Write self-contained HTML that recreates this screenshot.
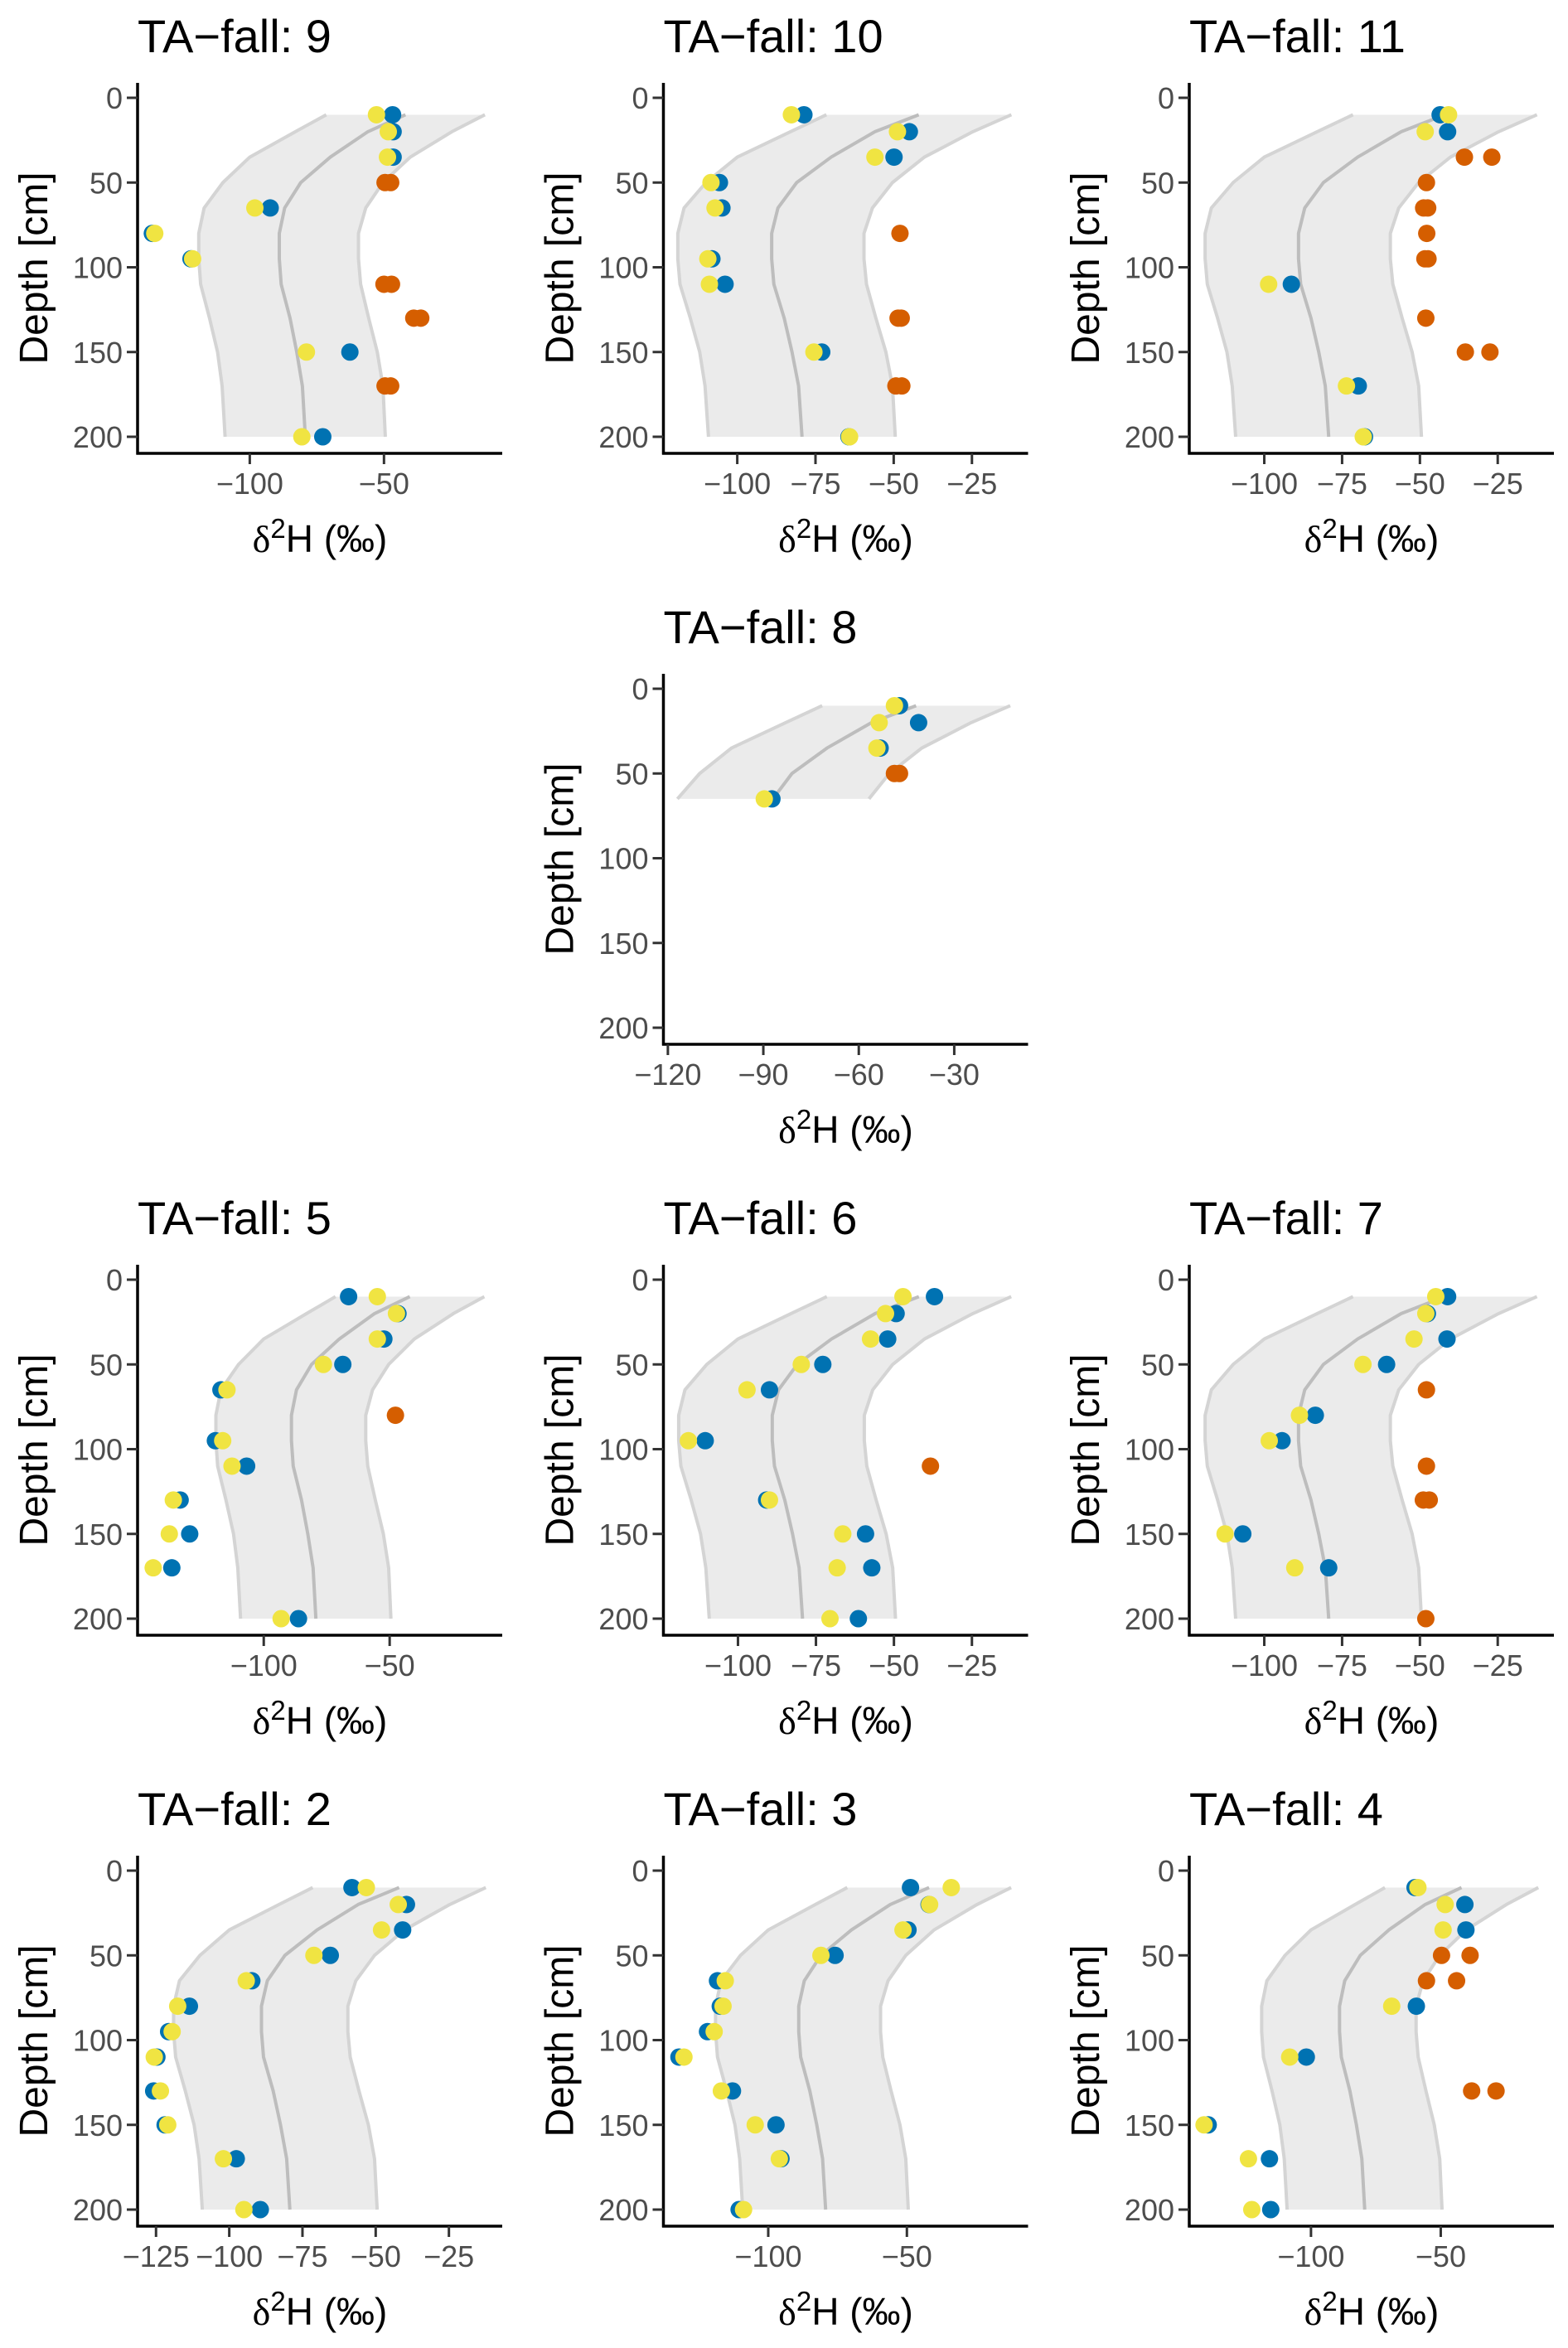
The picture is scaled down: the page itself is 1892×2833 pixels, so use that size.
<!DOCTYPE html>
<html><head><meta charset="utf-8"><style>
html,body{margin:0;padding:0;background:#fff;}
svg{display:block;}
</style></head><body>
<svg id="chart" xmlns="http://www.w3.org/2000/svg" width="1892" height="2833" viewBox="0 0 1892 2833"></svg>
<script>
// Shared reference band (depth in cm, d2H in permil)
const bandDepth = [10,20,35,50,65,80,95,110,130,150,170,200];
const bandLow   = [-71.5,-83,-100,-110,-117,-119,-119,-118.3,-115,-112,-110.3,-109.2];
const bandMid   = [-42,-56,-70,-81,-87,-89,-89,-88.3,-85,-82.5,-80.4,-79.3];
const bandHigh  = [-12.4,-24.7,-40.2,-50.4,-56.8,-59.5,-59.5,-58.7,-55.7,-52.5,-50.4,-49.5];
const depthTicks = [0,50,100,150,200];

// Panel titles and x tick labels
const panelNames = ['9','10','11','8','5','6','7','2','3','4'];
const ticks9 = [-100,-50];
const ticks10 = [-100,-75,-50,-25];
const ticks11 = [-100,-75,-50,-25];
const ticks8 = [-120,-90,-60,-30];
const ticks5 = [-100,-50];
const ticks6 = [-100,-75,-50,-25];
const ticks7 = [-100,-75,-50,-25];
const ticks2 = [-125,-100,-75,-50,-25];
const ticks3 = [-100,-50];
const ticks4 = [-100,-50];

// Data: [depth, d2H]
const blue9 = [[10,-46.8],[20,-46.6],[35,-46.6],[65,-92.4],[80,-136.3],[95,-121.9],[150,-62.7],[200,-72.8]];
const yellow9 = [[10,-52.8],[20,-48.4],[35,-48.7],[65,-98.1],[80,-135.4],[95,-121.3],[150,-78.9],[200,-80.6]];
const orange9 = [[50,-49.6],[50,-47.5],[110,-50],[110,-47.2],[130,-38.9],[130,-36.3],[170,-49.6],[170,-47.5]];

const blue10 = [[10,-78.7],[20,-45.0],[35,-49.9],[50,-105.7],[65,-104.9],[95,-108.1],[110,-103.9],[150,-73.0],[200,-64.3]];
const yellow10 = [[10,-82.7],[20,-48.8],[35,-56.0],[50,-108.4],[65,-107.1],[95,-109.4],[110,-108.9],[150,-75.5],[200,-64.1]];
const orange10 = [[80,-48.0],[130,-48.6],[130,-47.6],[170,-49.3],[170,-47.4]];

const blue11 = [[10,-43.5],[20,-41.1],[110,-91.3],[170,-69.8],[200,-67.8]];
const yellow11 = [[10,-40.8],[20,-48.3],[110,-98.6],[170,-73.6],[200,-68.2]];
const orange11 = [[35,-35.7],[35,-26.9],[50,-47.9],[65,-48.8],[65,-47.5],[80,-47.8],[95,-48.4],[95,-47.4],[130,-48.1],[150,-35.4],[150,-27.5]];

const blue8 = [[10,-47.2],[20,-41.2],[35,-53.3],[65,-87.3]];
const yellow8 = [[10,-48.8],[20,-53.6],[35,-54.3],[65,-89.7]];
const orange8 = [[50,-48.8],[50,-47.2]];

const blue5 = [[10,-66.3],[20,-46.7],[35,-52.3],[50,-68.6],[65,-117],[95,-119.2],[110,-106.8],[130,-133.2],[150,-129.4],[170,-136.5],[200,-86.2]];
const yellow5 = [[10,-54.9],[20,-47.3],[35,-54.9],[50,-76.3],[65,-114.6],[95,-116.3],[110,-112.6],[130,-135.9],[150,-137.5],[170,-143.9],[200,-93.1]];
const orange5 = [[80,-47.7]];

const blue6 = [[10,-37.0],[20,-49.3],[35,-52.0],[50,-72.8],[65,-89.9],[95,-110.5],[130,-90.8],[150,-59.1],[170,-57.1],[200,-61.4]];
const yellow6 = [[10,-47.1],[20,-52.7],[35,-57.5],[50,-79.7],[65,-97.1],[95,-115.9],[130,-89.9],[150,-66.4],[170,-68.2],[200,-70.5]];
const orange6 = [[110,-38.3]];

const blue7 = [[10,-41.1],[20,-47.6],[35,-41.3],[50,-60.7],[80,-83.6],[95,-94.3],[150,-106.9],[170,-79.3]];
const yellow7 = [[10,-44.9],[20,-48.1],[35,-51.9],[50,-68.3],[80,-88.7],[95,-98.4],[150,-112.6],[170,-90.2]];
const orange7 = [[65,-47.9],[110,-47.9],[130,-48.9],[130,-47.0],[200,-48.1]];

const blue2 = [[10,-58.1],[20,-39.5],[35,-40.8],[50,-65.5],[65,-92.3],[80,-113.6],[95,-120.7],[110,-124.7],[130,-125.8],[150,-121.9],[170,-97.6],[200,-89.4]];
const yellow2 = [[10,-53.2],[20,-42.3],[35,-48.0],[50,-71.1],[65,-94.2],[80,-117.6],[95,-119.5],[110,-125.6],[130,-123.5],[150,-121.0],[170,-102.0],[200,-95.0]];
const orange2 = [];

const blue3 = [[10,-48.7],[20,-42.0],[35,-49.6],[50,-75.9],[65,-118.3],[80,-117.3],[95,-121.9],[110,-132.2],[130,-112.9],[150,-97.2],[170,-95.4],[200,-110.5]];
const yellow3 = [[10,-34.0],[20,-41.8],[35,-51.4],[50,-81.0],[65,-115.5],[80,-116.3],[95,-119.5],[110,-130.4],[130,-116.9],[150,-104.7],[170,-96.0],[200,-108.9]];
const orange3 = [];

const blue4 = [[10,-59.9],[20,-40.7],[35,-40.3],[80,-59.4],[110,-101.8],[150,-139.6],[170,-116.0],[200,-115.5]];
const yellow4 = [[10,-58.8],[20,-48.3],[35,-49.1],[80,-68.9],[110,-108.2],[150,-141.2],[170,-124.1],[200,-122.8]];
const orange4 = [[50,-49.7],[50,-38.7],[65,-55.5],[65,-43.9],[130,-38.1],[130,-28.7]];

// layout
const NS = 'http://www.w3.org/2000/svg';
const svg = document.getElementById('chart');
const colX = [0, 634.5, 1269];
const rowY = [0, 713, 1426, 2139];
const panels = [
  {n:'9', c:0,r:0, xmin:-141.8,xmax:-5.95, ticks:ticks9, b:blue9,y:yellow9,o:orange9, maxD:200},
  {n:'10',c:1,r:0, xmin:-123.6,xmax:-7.06, ticks:ticks10,b:blue10,y:yellow10,o:orange10,maxD:200},
  {n:'11',c:2,r:0, xmin:-124.1,xmax:-6.95, ticks:ticks11,b:blue11,y:yellow11,o:orange11,maxD:200},
  {n:'8', c:1,r:1, xmin:-121.4,xmax:-6.8,  ticks:ticks8, b:blue8,y:yellow8,o:orange8, maxD:65},
  {n:'5', c:0,r:2, xmin:-150.1,xmax:-5.3,  ticks:ticks5, b:blue5,y:yellow5,o:orange5, maxD:200},
  {n:'6', c:1,r:2, xmin:-123.9,xmax:-7.0,  ticks:ticks6, b:blue6,y:yellow6,o:orange6, maxD:200},
  {n:'7', c:2,r:2, xmin:-124.1,xmax:-6.95, ticks:ticks7, b:blue7,y:yellow7,o:orange7, maxD:200},
  {n:'2', c:0,r:3, xmin:-131.3,xmax:-6.8,  ticks:ticks2, b:blue2,y:yellow2,o:orange2, maxD:200},
  {n:'3', c:1,r:3, xmin:-137.8,xmax:-6.3,  ticks:ticks3, b:blue3,y:yellow3,o:orange3, maxD:200},
  {n:'4', c:2,r:3, xmin:-146.9,xmax:-6.4,  ticks:ticks4, b:blue4,y:yellow4,o:orange4, maxD:200}
];
function mk(tag, attrs, parent){
  const e = document.createElementNS(NS, tag);
  for (const k in attrs) e.setAttribute(k, attrs[k]);
  parent.appendChild(e);
  return e;
}
const AX = 166, AR = 606, AT = 100, AB = 547, D0 = 118, D200 = 527;
panels.forEach(p => {
  const ox = colX[p.c], oy = rowY[p.r];
  const g = mk('g', {transform:`translate(${ox},${oy})`}, svg);
  
  
  const sx = v => AX + (v - p.xmin) / (p.xmax - p.xmin) * (AR - AX);
  const sy = d => D0 + d / 200 * (D200 - D0);
  const t = mk('text', {x:AX, y:63, 'font-family':'Liberation Sans, sans-serif', 'font-size':56, fill:'#000'}, g);
  t.textContent = 'TA\u2212fall: ' + p.n;
  
  
  const idx = bandDepth.map((d,i)=>i).filter(i => bandDepth[i] <= p.maxD);
  let pts = idx.map(i => `${sx(bandLow[i])},${sy(bandDepth[i])}`);
  pts = pts.concat(idx.slice().reverse().map(i => `${sx(bandHigh[i])},${sy(bandDepth[i])}`));
  const band = mk('polygon', {points:pts.join(' '), fill:'#ebebeb'}, g);
  
  
  [[bandLow,'#d4d4d4','band-lower-line'],[bandHigh,'#d4d4d4','band-upper-line'],[bandMid,'#bdbdbd','band-mean-line']].forEach(([arr,col,nm]) => {
    const pl = mk('polyline', {points: idx.map(i => `${sx(arr[i])},${sy(bandDepth[i])}`).join(' '), fill:'none', stroke:col, 'stroke-width':4, 'stroke-linejoin':'round'}, g);
    
    
  });
  [[p.b,'#0072B2','point-blue'],[p.y,'#F0E442','point-yellow'],[p.o,'#D55E00','point-orange']].forEach(([arr,col,nm]) => {
    arr.forEach(([d,v]) => {
      const c = mk('circle', {cx:sx(v), cy:sy(d), r:10.5, fill:col}, g);
      
      
    });
  });
  const ya = mk('line', {x1:AX, y1:AT, x2:AX, y2:AB+1.5, stroke:'#000', 'stroke-width':3.5}, g);
  
  
  const xa = mk('line', {x1:AX-1.5, y1:AB, x2:AR, y2:AB, stroke:'#000', 'stroke-width':3.5}, g);
  
  
  depthTicks.forEach(d => {
    mk('line', {x1:AX-13, y1:sy(d), x2:AX, y2:sy(d), stroke:'#333', 'stroke-width':3}, g);
    const tl = mk('text', {x:AX-18, y:sy(d)+13, 'text-anchor':'end', 'font-family':'Liberation Sans, sans-serif', 'font-size':36, fill:'#4d4d4d'}, g);
    tl.textContent = d;
    
    
  });
  p.ticks.forEach(v => {
    mk('line', {x1:sx(v), y1:AB, x2:sx(v), y2:AB+13, stroke:'#333', 'stroke-width':3}, g);
    const tl = mk('text', {x:sx(v), y:596, 'text-anchor':'middle', 'font-family':'Liberation Sans, sans-serif', 'font-size':36, fill:'#4d4d4d'}, g);
    tl.textContent = '\u2212' + Math.abs(v);
    
    
  });
  const xt = mk('text', {x:(AX+AR)/2, y:666, 'text-anchor':'middle', 'font-family':'Liberation Sans, sans-serif', 'font-size':46, fill:'#000'}, g);
  
  
  xt.innerHTML = '<tspan font-family="Liberation Serif, serif">\u03b4</tspan><tspan dy="-17" font-size="33">2</tspan><tspan dy="17">H (\u2030)</tspan>';
  const yt = mk('text', {x:0, y:0, transform:`translate(57,${(AT+AB)/2}) rotate(-90)`, 'text-anchor':'middle', 'font-family':'Liberation Sans, sans-serif', 'font-size':48, fill:'#000'}, g);
  yt.textContent = 'Depth [cm]';
  
  
});
</script>
</body></html>
